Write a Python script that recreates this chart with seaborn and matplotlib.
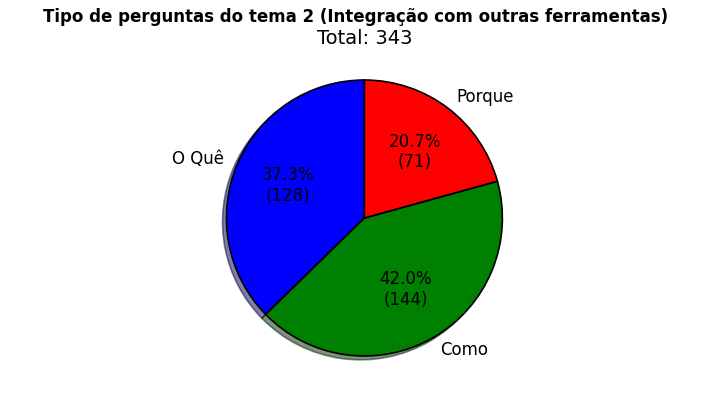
import matplotlib
matplotlib.use("Agg")
import matplotlib.pyplot as plt
import seaborn as sns

sns.set_style("white")
plt.rcParams['font.family'] = ['DejaVu Sans']
plt.rcParams['text.color'] = 'black'

categories = ["O Quê", "Como", "Porque"]
values = [128, 144, 71]
colors = ["blue", "green", "red"]
suptitle = "Tipo de perguntas do tema 2 (Integração com outras ferramentas)"
total = sum(values)

fig, ax = plt.subplots(figsize=(7.11, 4.0), dpi=100)
fig.subplots_adjust(bottom=0.0755, top=0.8345)

def fmt(p):
    return "{:.1f}%\n({:d})".format(p, int(round(p * total / 100.0)))

wedges, texts, autotexts = ax.pie(values, labels=categories, colors=colors, autopct=fmt,
                                  startangle=90, shadow=True,
                                  wedgeprops=dict(edgecolor="black", linewidth=1.2),
                                  textprops=dict(fontsize=12, color="black"))
ax.axis("equal")
ax.set_title("Total: {}".format(total), fontsize=14, color="black", y=1.045)
fig.suptitle(suptitle, fontsize=12, fontweight="bold", color="black")
fig.savefig("out.png", dpi=100)
